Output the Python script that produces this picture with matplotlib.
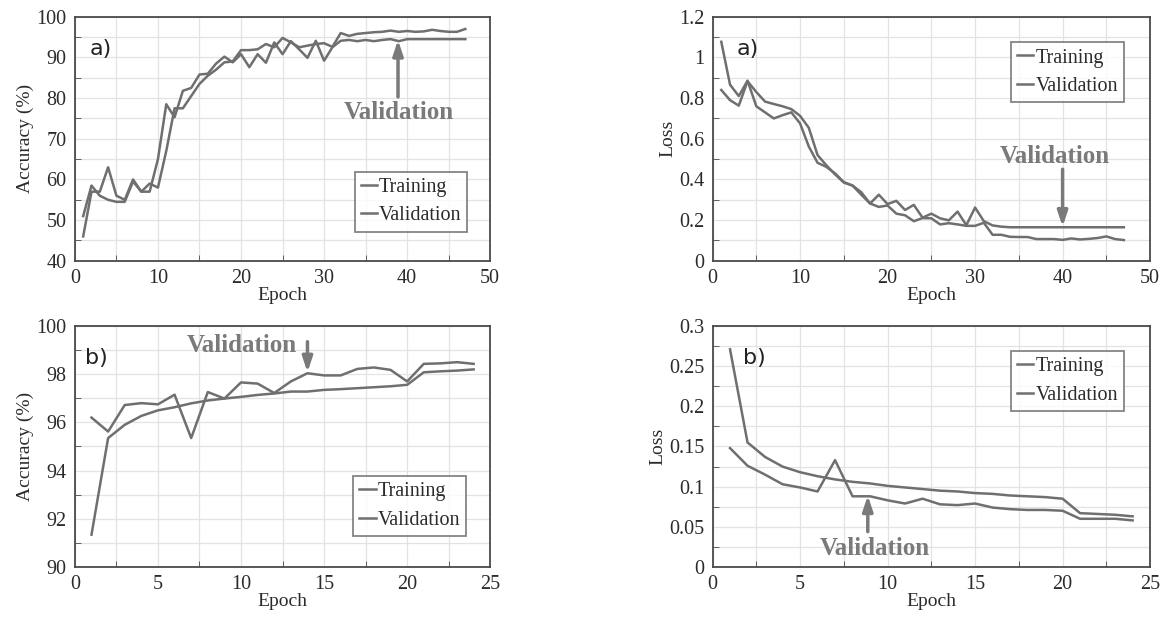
import matplotlib
matplotlib.use("Agg")
import matplotlib.pyplot as plt
from matplotlib.ticker import MultipleLocator

# ---------------- data ----------------
epochs_a = list(range(1, 48))
acc_train_a = [51, 58.5, 56, 55, 54.5, 54.5, 59.5, 57, 59, 58,
               67, 77.5, 77.5, 80.5, 83.5, 85.5, 87, 88.8, 89, 91.8,
               91.8, 92, 93.3, 92.5, 94.8, 93.7, 92.5, 92.9, 93.3, 93.5,
               92.6, 96, 95.3, 95.8, 96, 96.2, 96.3, 96.6, 96.3, 96.5,
               96.3, 96.4, 96.8, 96.5, 96.3, 96.3, 97]
acc_val_a = [46, 57, 57, 63, 56, 55, 60, 57, 57, 65,
             78.5, 75.3, 81.8, 82.5, 85.8, 86, 88.5, 90.2, 88.8, 90.8,
             87.6, 90.8, 88.7, 93.7, 90.8, 94, 92, 89.9, 94.1, 89.2,
             92.5, 94.1, 94.3, 94, 94.3, 94, 94.3, 94.5, 94, 94.5,
             94.5, 94.5, 94.5, 94.5, 94.5, 94.5, 94.5]
loss_train_a = [1.077, 0.866, 0.81, 0.886, 0.76, 0.73, 0.70, 0.716, 0.73, 0.676,
                0.562, 0.482, 0.462, 0.43, 0.387, 0.37, 0.325, 0.282, 0.265, 0.272,
                0.232, 0.224, 0.195, 0.21, 0.209, 0.179, 0.185, 0.179, 0.172, 0.172,
                0.187, 0.128, 0.128, 0.118, 0.117, 0.117, 0.107, 0.107, 0.107, 0.103,
                0.11, 0.105, 0.108, 0.112, 0.12, 0.107, 0.102]
loss_val_a = [0.84, 0.79, 0.763, 0.883, 0.83, 0.783, 0.771, 0.76, 0.746, 0.713,
              0.654, 0.52, 0.47, 0.425, 0.385, 0.37, 0.337, 0.282, 0.325, 0.279,
              0.295, 0.25, 0.275, 0.212, 0.232, 0.209, 0.199, 0.242, 0.175, 0.262,
              0.195, 0.174, 0.168, 0.165, 0.165, 0.165, 0.165, 0.165, 0.165, 0.165,
              0.165, 0.165, 0.165, 0.165, 0.165, 0.165, 0.165]

epochs_b = list(range(1, 25))
acc_train_b = [91.34, 95.35, 95.9, 96.27, 96.5, 96.63, 96.79, 96.91, 96.99, 97.06,
               97.14, 97.2, 97.28, 97.28, 97.35, 97.38, 97.42, 97.46, 97.5, 97.56,
               98.08, 98.12, 98.15, 98.2]
acc_val_b = [96.2, 95.62, 96.72, 96.8, 96.75, 97.15, 95.35, 97.26, 96.99, 97.66,
             97.61, 97.22, 97.7, 98.04, 97.95, 97.95, 98.22, 98.28, 98.18, 97.7,
             98.43, 98.45, 98.5, 98.43]
loss_train_b = [0.271, 0.155, 0.137, 0.125, 0.118, 0.113, 0.109, 0.106, 0.104, 0.101,
                0.099, 0.097, 0.095, 0.094, 0.092, 0.091, 0.089, 0.088, 0.087, 0.085,
                0.067, 0.066, 0.065, 0.063]
loss_val_b = [0.148, 0.126, 0.115, 0.103, 0.099, 0.094, 0.133, 0.088, 0.088, 0.083,
              0.079, 0.085, 0.078, 0.077, 0.079, 0.074, 0.072, 0.071, 0.071, 0.070,
              0.060, 0.060, 0.060, 0.058]

legend_labels = ["Training", "Validation"]

# ---------------- style ----------------
LINE = "#6f6f6f"
SPINE = "#4a4a4a"
GRID = "#e3e3e3"
TXT = "#2b2b2b"
ANN = "#7a7a7a"
SERIF = "Liberation Serif"
plt.rcParams["font.family"] = SERIF

fig = plt.figure(figsize=(11.7, 6.21), dpi=100)
pos = {
    "tl": [0.064, 0.580, 0.355, 0.393],
    "tr": [0.609, 0.580, 0.374, 0.393],
    "bl": [0.064, 0.087, 0.355, 0.388],
    "br": [0.609, 0.087, 0.374, 0.388],
}


def setup(ax, xlim, xmaj, xmin, ylim, ymaj, ymin, ylabel, panel, panel_x,
          leg_loc, leg_anchor):
    ax.set_xlim(*xlim)
    ax.set_ylim(*ylim)
    ax.xaxis.set_major_locator(MultipleLocator(xmaj))
    ax.xaxis.set_minor_locator(MultipleLocator(xmin))
    ax.yaxis.set_major_locator(MultipleLocator(ymaj))
    ax.yaxis.set_minor_locator(MultipleLocator(ymin))
    ax.grid(True, which="both", color=GRID, lw=0.9, zorder=0)
    ax.set_axisbelow(True)
    for s in ax.spines.values():
        s.set_color(SPINE)
        s.set_linewidth(1.3)
    ax.tick_params(which="both", direction="in", color=SPINE, length=4,
                   labelsize=14.5, labelcolor=TXT, pad=6)
    ax.tick_params(which="major", length=0)
    ax.set_xlabel("Epoch", fontsize=14, color=TXT, labelpad=-1)
    ax.set_ylabel(ylabel, fontsize=14, color=TXT, labelpad=2)
    ax.text(panel_x, 0.91, panel, transform=ax.transAxes, fontsize=16,
            family="DejaVu Sans", color="#222222", va="top")
    leg = ax.legend(legend_labels, loc=leg_loc, bbox_to_anchor=leg_anchor,
                    fontsize=14.5, handlelength=0.8, handletextpad=0.1,
                    frameon=True, fancybox=False, borderpad=0.3,
                    labelspacing=0.45, borderaxespad=0)
    leg.get_frame().set_edgecolor("#666666")
    leg.get_frame().set_linewidth(1.3)
    for t in leg.get_texts():
        t.set_color(TXT)


def plot_pair(ax, x, tr, va):
    ax.plot(x, tr, color=LINE, lw=1.8, zorder=3)
    ax.plot(x, va, color=LINE, lw=1.8, zorder=3)


def annotate(ax, text, text_xy, tip_xy, tail_xy, ha="center"):
    ax.annotate("", xy=tip_xy, xytext=tail_xy,
                arrowprops=dict(arrowstyle="-|>,head_length=0.9,head_width=0.3",
                                color=ANN, lw=2.5, shrinkA=0, shrinkB=0), zorder=4)
    ax.text(*text_xy, text, fontsize=18, fontweight="bold", color=ANN,
            ha=ha, va="center", zorder=4)


# top-left
ax = fig.add_axes(pos["tl"])
plot_pair(ax, epochs_a, acc_train_a, acc_val_a)
setup(ax, (0, 50), 10, 5, (40, 100), 10, 5, "Accuracy (%)", "a)", 0.035,
      "lower right", (0.945, 0.12))
annotate(ax, "Validation", (39, 76.5), (38.9, 94.3), (38.9, 80.3))

# top-right
ax = fig.add_axes(pos["tr"])
plot_pair(ax, epochs_a, loss_train_a, loss_val_a)
setup(ax, (0, 50), 10, 5, (0, 1.2), 0.2, 0.1, "Loss", "a)", 0.055,
      "upper right", (0.94, 0.895))
ax.yaxis.set_major_formatter(plt.FuncFormatter(lambda v, p: f"{v:g}"))
annotate(ax, "Validation", (39.1, 0.512), (40, 0.168), (40, 0.45))

# bottom-left
ax = fig.add_axes(pos["bl"])
plot_pair(ax, epochs_b, acc_train_b, acc_val_b)
setup(ax, (0, 25), 5, 2.5, (90, 100), 2, 1, "Accuracy (%)", "b)", 0.025,
      "lower right", (0.942, 0.13))
annotate(ax, "Validation", (13.35, 99.2), (14, 98.08), (14, 99.35), ha="right")

# bottom-right
ax = fig.add_axes(pos["br"])
plot_pair(ax, epochs_b, loss_train_b, loss_val_b)
setup(ax, (0, 25), 5, 2.5, (0, 0.3), 0.05, 0.025, "Loss", "b)", 0.07,
      "upper right", (0.94, 0.895))
ax.yaxis.set_major_formatter(plt.FuncFormatter(lambda v, p: f"{v:g}"))
annotate(ax, "Validation", (9.3, 0.0226), (8.87, 0.089), (8.87, 0.044))

fig.savefig("out.png", dpi=100)
